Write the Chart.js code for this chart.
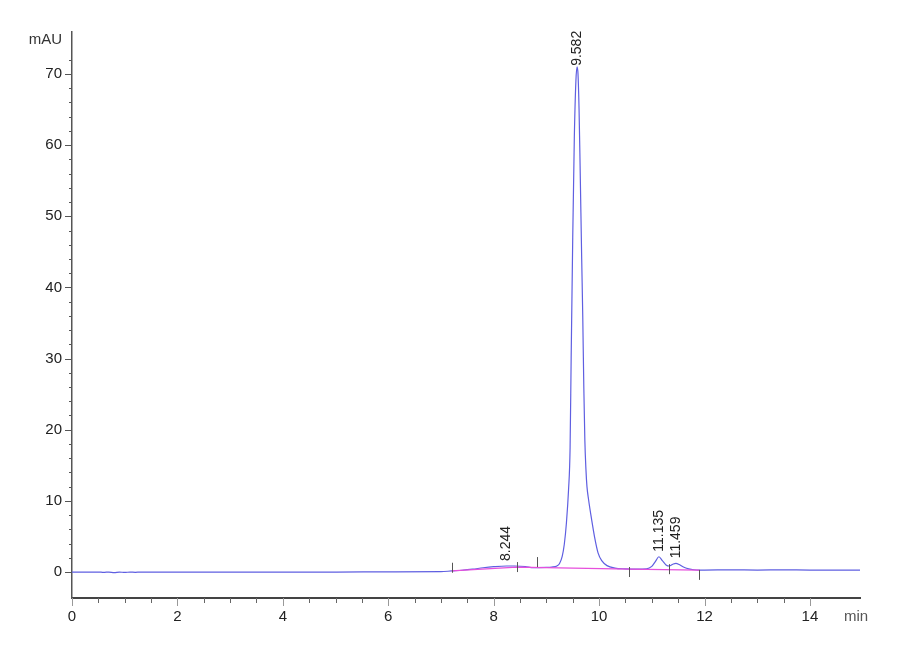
<!DOCTYPE html>
<html>
<head>
<meta charset="utf-8">
<script src="https://cdn.jsdelivr.net/npm/chart.js@4/dist/chart.umd.min.js"></script>
<style>
  html, body { margin: 0; padding: 0; background: #fff; }
  canvas { display: block; }
</style>
</head>
<body>
<canvas id="myChart" width="900" height="660"></canvas>
<script>
// chromatogram trace (min, mAU)
const timeMin = [0, 0.5, 0.6, 0.7, 0.8, 0.9, 1.0, 1.1, 1.2, 1.3, 2, 3, 4, 5, 6, 7.0,
  7.2, 7.4, 7.6, 7.8, 8.0, 8.244, 8.4, 8.6, 8.75, 9.0, 9.1, 9.2, 9.25, 9.30, 9.34, 9.38,
  9.42, 9.45, 9.47, 9.50, 9.53, 9.56, 9.582, 9.60, 9.62, 9.64, 9.67, 9.69, 9.71, 9.73,
  9.75, 9.77, 9.80, 9.86, 9.92, 9.98, 10.05, 10.15, 10.3, 10.5, 10.7, 10.9, 11.0, 11.07,
  11.135, 11.2, 11.27, 11.33, 11.40, 11.459, 11.52, 11.6, 11.7, 11.8, 11.9, 12.0, 12.5,
  13, 13.5, 14, 14.95];
const signalMAU = [0, 0, -0.05, 0, -0.08, 0, -0.06, 0, -0.04, 0, 0, 0, 0, 0, 0.02, 0.05,
  0.15, 0.25, 0.4, 0.6, 0.75, 0.85, 0.85, 0.78, 0.6, 0.65, 0.7, 0.85, 1.2, 2.2, 3.9, 6.9,
  11.5, 17.5, 30, 47, 61, 69, 71, 70, 65, 57, 44, 36, 26, 18.5,
  14.5, 12, 10.2, 7.3, 4.7, 2.7, 1.6, 0.9, 0.55, 0.45, 0.4, 0.45, 0.8, 1.5,
  2.15, 1.6, 1.0, 0.85, 1.1, 1.22, 1.05, 0.7, 0.45, 0.32, 0.28, 0.28, 0.3,
  0.28, 0.3, 0.28, 0.28];

// integration baseline (magenta)
const baseTimes = [7.2, 8.44, 10.57, 11.9];
const baseLevels = [0.15, 0.7, 0.4, 0.28];

// integration event marks
const eventTimes = [7.2, 8.44, 8.83, 10.57, 11.33, 11.9];
const eventLevels = [0.6, 0.7, 1.4, 0.0, 0.4, -0.4];

// peak labels
const peakTimes = [8.244, 9.582, 11.135, 11.459];
const peakHeights = [0.85, 71, 2.15, 1.22];

const xMin = 0, xMax = 14.95;
const yMin = -3.65, yMax = 75.9;

const tickFont = { family: '"Liberation Sans Narrow", "Liberation Sans", Arial, sans-serif', size: 15 };

const toPoints = (xs, ys) => xs.map((t, i) => ({ x: t, y: ys[i] }));

const axisMarks = {
  id: 'axisMarks',
  afterDraw(chart) {
    const { ctx, chartArea } = chart;
    const x = chart.scales.x, y = chart.scales.y;
    ctx.save();
    ctx.strokeStyle = '#555';
    ctx.lineWidth = 1;

    y.ticks.forEach(t => {
      const v = t.value;
      if (Math.abs(v / 2 - Math.round(v / 2)) > 1e-6) return;
      const py = Math.round(y.getPixelForValue(v)) + 0.5;
      const len = Math.round(v) % 10 === 0 ? 7 : 3;
      ctx.beginPath();
      ctx.moveTo(chartArea.left - len, py);
      ctx.lineTo(chartArea.left, py);
      ctx.stroke();
    });

    x.ticks.forEach(t => {
      const v = t.value;
      if (Math.abs(v * 2 - Math.round(v * 2)) > 1e-6) return;
      const px = Math.round(x.getPixelForValue(v)) + 0.5;
      const len = Math.abs(v / 2 - Math.round(v / 2)) < 1e-6 ? 8 : 5;
      ctx.strokeStyle = len === 8 ? '#999' : '#666';
      ctx.beginPath();
      ctx.moveTo(px, chartArea.bottom);
      ctx.lineTo(px, chartArea.bottom + len);
      ctx.stroke();
    });

    // event marks
    ctx.strokeStyle = '#555';
    eventTimes.forEach((t, i) => {
      const px = Math.round(x.getPixelForValue(t)) + 0.5;
      const py = y.getPixelForValue(eventLevels[i]);
      ctx.beginPath();
      ctx.moveTo(px, py - 5);
      ctx.lineTo(px, py + 5);
      ctx.stroke();
    });

    // peak labels
    ctx.fillStyle = '#222';
    ctx.font = '14px "Liberation Sans", Arial, sans-serif';
    ctx.textAlign = 'left';
    ctx.textBaseline = 'middle';
    peakTimes.forEach((t, i) => {
      const px = x.getPixelForValue(t);
      const py = y.getPixelForValue(peakHeights[i]) - (i === 1 ? 1 : 5);
      ctx.save();
      ctx.translate(px, py);
      ctx.rotate(-Math.PI / 2);
      ctx.fillText(t.toFixed(3), 0, 0);
      ctx.restore();
    });

    // axis units
    ctx.font = '15px ' + tickFont.family;
    ctx.fillStyle = '#333';
    ctx.textAlign = 'right';
    ctx.fillText('mAU', chartArea.left - 10, 40);
    ctx.fillStyle = '#555';
    ctx.textAlign = 'left';
    ctx.fillText('min', chartArea.right - 16, chartArea.bottom + 19);
    ctx.restore();
  }
};

const ctx = document.getElementById('myChart');

let chartConfig = {
  type: 'line',
  data: {
    datasets: [
      {
        label: 'signal',
        data: toPoints(timeMin, signalMAU),
        borderColor: 'rgb(95, 95, 225)',
        borderWidth: 1.2,
        pointRadius: 0,
        cubicInterpolationMode: 'monotone',
        order: 2
      },
      {
        label: 'baseline',
        data: toPoints(baseTimes, baseLevels),
        borderColor: 'rgb(230, 80, 220)',
        borderWidth: 1.2,
        pointRadius: 0,
        order: 1
      }
    ]
  },
  plugins: [axisMarks],
  options: {
    responsive: false,
    animation: false,
    layout: { padding: { top: 32, right: 40, left: 0, bottom: 0 } },
    plugins: {
      legend: { display: false },
      tooltip: { enabled: false }
    },
    scales: {
      x: {
        type: 'linear',
        min: xMin,
        max: xMax,
        grid: { display: false, drawTicks: false },
        border: { color: '#444', width: 2 },
        ticks: {
          stepSize: 0.5,
          autoSkip: false,
          maxRotation: 0,
          padding: 10,
          color: '#222',
          font: tickFont,
          callback: v => (Math.abs(v / 2 - Math.round(v / 2)) < 1e-6 ? String(Math.round(v)) : '')
        },
        afterFit: scale => { scale.height = 62; }
      },
      y: {
        type: 'linear',
        min: yMin,
        max: yMax,
        grid: { display: false, drawTicks: false },
        border: { color: '#555', width: 1.5 },
        ticks: {
          stepSize: 2,
          autoSkip: false,
          padding: 10,
          color: '#222',
          font: tickFont,
          callback: v => (Math.abs(v / 10 - Math.round(v / 10)) < 1e-6 ? String(Math.round(v)) : '')
        },
        afterFit: scale => { scale.width = 72; }
      }
    }
  }
};

const myChart = new Chart(ctx, chartConfig);
</script>
</body>
</html>
